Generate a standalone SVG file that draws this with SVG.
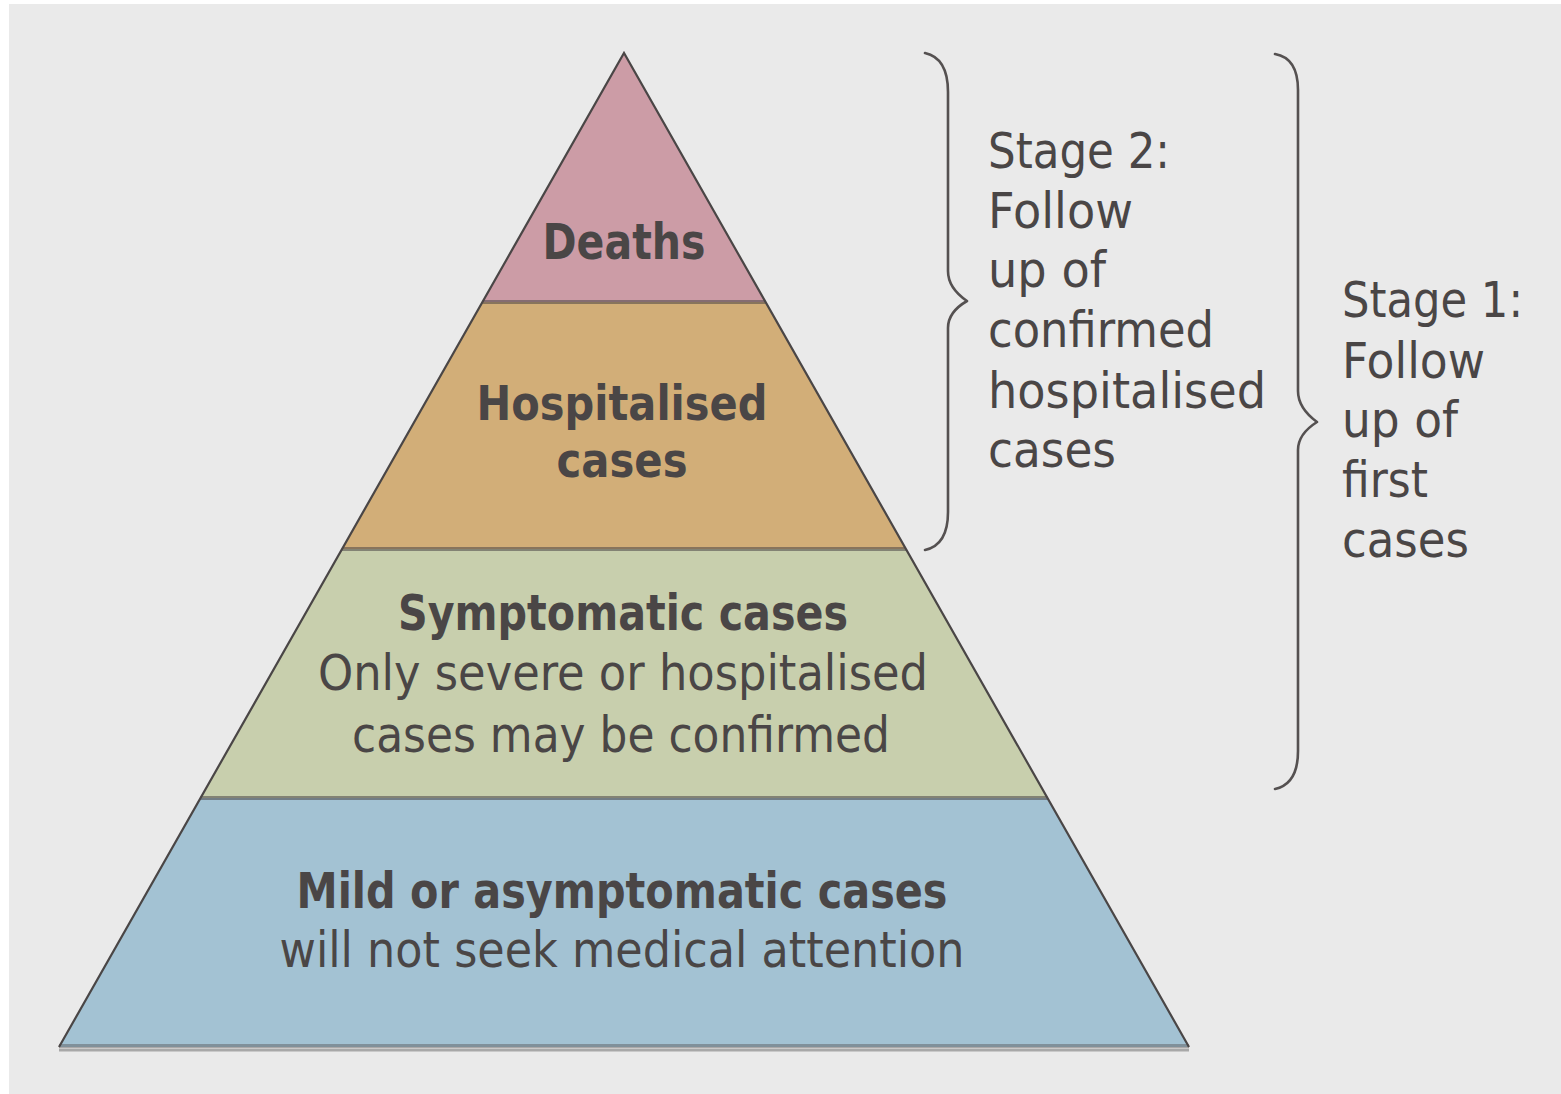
<svg xmlns="http://www.w3.org/2000/svg" width="1561" height="1094" viewBox="0 0 1561 1094">
<style>
.t{font-family:"DejaVu Sans","Open Sans","Liberation Sans",sans-serif;font-size:49px;fill:#4a4646}
.h{font-size:48px}
.b{font-weight:bold}
.c{text-anchor:middle}
.edge{fill:none;stroke:#4a4646;stroke-width:2.2;stroke-linejoin:miter}
.div{stroke:#4a4646;stroke-opacity:0.55;stroke-width:4}
.brace{fill:none;stroke:#555151;stroke-width:2.6;stroke-linejoin:round;stroke-linecap:round}
</style>
<rect x="0" y="0" width="1561" height="1094" fill="#ffffff"/>
<rect x="9" y="4" width="1552" height="1090" fill="#eaeaea"/>
<g id="deaths">
<polygon points="624,53 482.5,302 765.5,302" fill="#cc9ca6"/>
<text class="t b c" x="624" y="259" textLength="163" lengthAdjust="spacingAndGlyphs">Deaths</text>
</g>
<g id="hospitalised">
<polygon points="482.5,302 765.5,302 906,549 342,549" fill="#d2ae78"/>
<text class="t h b c" x="622" y="420" textLength="291" lengthAdjust="spacingAndGlyphs">Hospitalised</text>
<text class="t h b c" x="622" y="477" textLength="131" lengthAdjust="spacingAndGlyphs">cases</text>
</g>
<g id="symptomatic">
<polygon points="342,549 906,549 1047.5,798 200.5,798" fill="#c8cfad"/>
<text class="t b c" x="623" y="630" textLength="450" lengthAdjust="spacingAndGlyphs">Symptomatic cases</text>
<text class="t c" x="623" y="690" textLength="610" lengthAdjust="spacingAndGlyphs">Only severe or hospitalised</text>
<text class="t c" x="621" y="752" textLength="538" lengthAdjust="spacingAndGlyphs">cases may be confirmed</text>
</g>
<g id="mild">
<polygon points="200.5,798 1047.5,798 1189,1047 59,1047" fill="#a3c2d3"/>
<text class="t b c" x="622" y="908" textLength="651" lengthAdjust="spacingAndGlyphs">Mild or asymptomatic cases</text>
<text class="t c" x="622" y="967" textLength="685" lengthAdjust="spacingAndGlyphs">will not seek medical attention</text>
</g>
<g id="outline">
<line class="div" x1="482.5" y1="302" x2="765.5" y2="302"/>
<line class="div" x1="342" y1="549" x2="906" y2="549"/>
<line class="div" x1="200.5" y1="798" x2="1047.5" y2="798"/>
<line x1="59" y1="1046" x2="1189" y2="1046" stroke="#4a4646" stroke-opacity="0.4" stroke-width="4"/>
<line x1="59" y1="1050" x2="1189" y2="1050" stroke="#a8a8a8" stroke-width="3"/>
<polyline class="edge" points="59,1047 624,53 1189,1047"/>
</g>
<g id="connectors">
<path class="brace" d="M925,53 Q948,58 948,92 L948,271 Q948,288 967,301 Q948,312 948,328 L948,512 Q948,545 925,550"/>
<path class="brace" d="M1275,54 Q1298,58 1298,90 L1298,391 Q1298,408 1317,422 Q1298,434 1298,450 L1298,751 Q1298,784 1275,789"/>
</g>
<g id="stage2">
<text class="t" x="988" y="168" textLength="182" lengthAdjust="spacingAndGlyphs">Stage 2:</text>
<text class="t" x="988" y="228" textLength="145" lengthAdjust="spacingAndGlyphs">Follow</text>
<text class="t" x="988" y="287" textLength="118" lengthAdjust="spacingAndGlyphs">up of</text>
<text class="t" x="988" y="347" textLength="226" lengthAdjust="spacingAndGlyphs">confirmed</text>
<text class="t" x="988" y="408" textLength="278" lengthAdjust="spacingAndGlyphs">hospitalised</text>
<text class="t" x="988" y="467" textLength="128" lengthAdjust="spacingAndGlyphs">cases</text>
</g>
<g id="stage1">
<text class="t" x="1342" y="317" textLength="181" lengthAdjust="spacingAndGlyphs">Stage 1:</text>
<text class="t" x="1342" y="378" textLength="143" lengthAdjust="spacingAndGlyphs">Follow</text>
<text class="t" x="1342" y="437" textLength="116" lengthAdjust="spacingAndGlyphs">up of</text>
<text class="t" x="1342" y="497" textLength="86" lengthAdjust="spacingAndGlyphs">first</text>
<text class="t" x="1342" y="557" textLength="127" lengthAdjust="spacingAndGlyphs">cases</text>
</g>
</svg>
